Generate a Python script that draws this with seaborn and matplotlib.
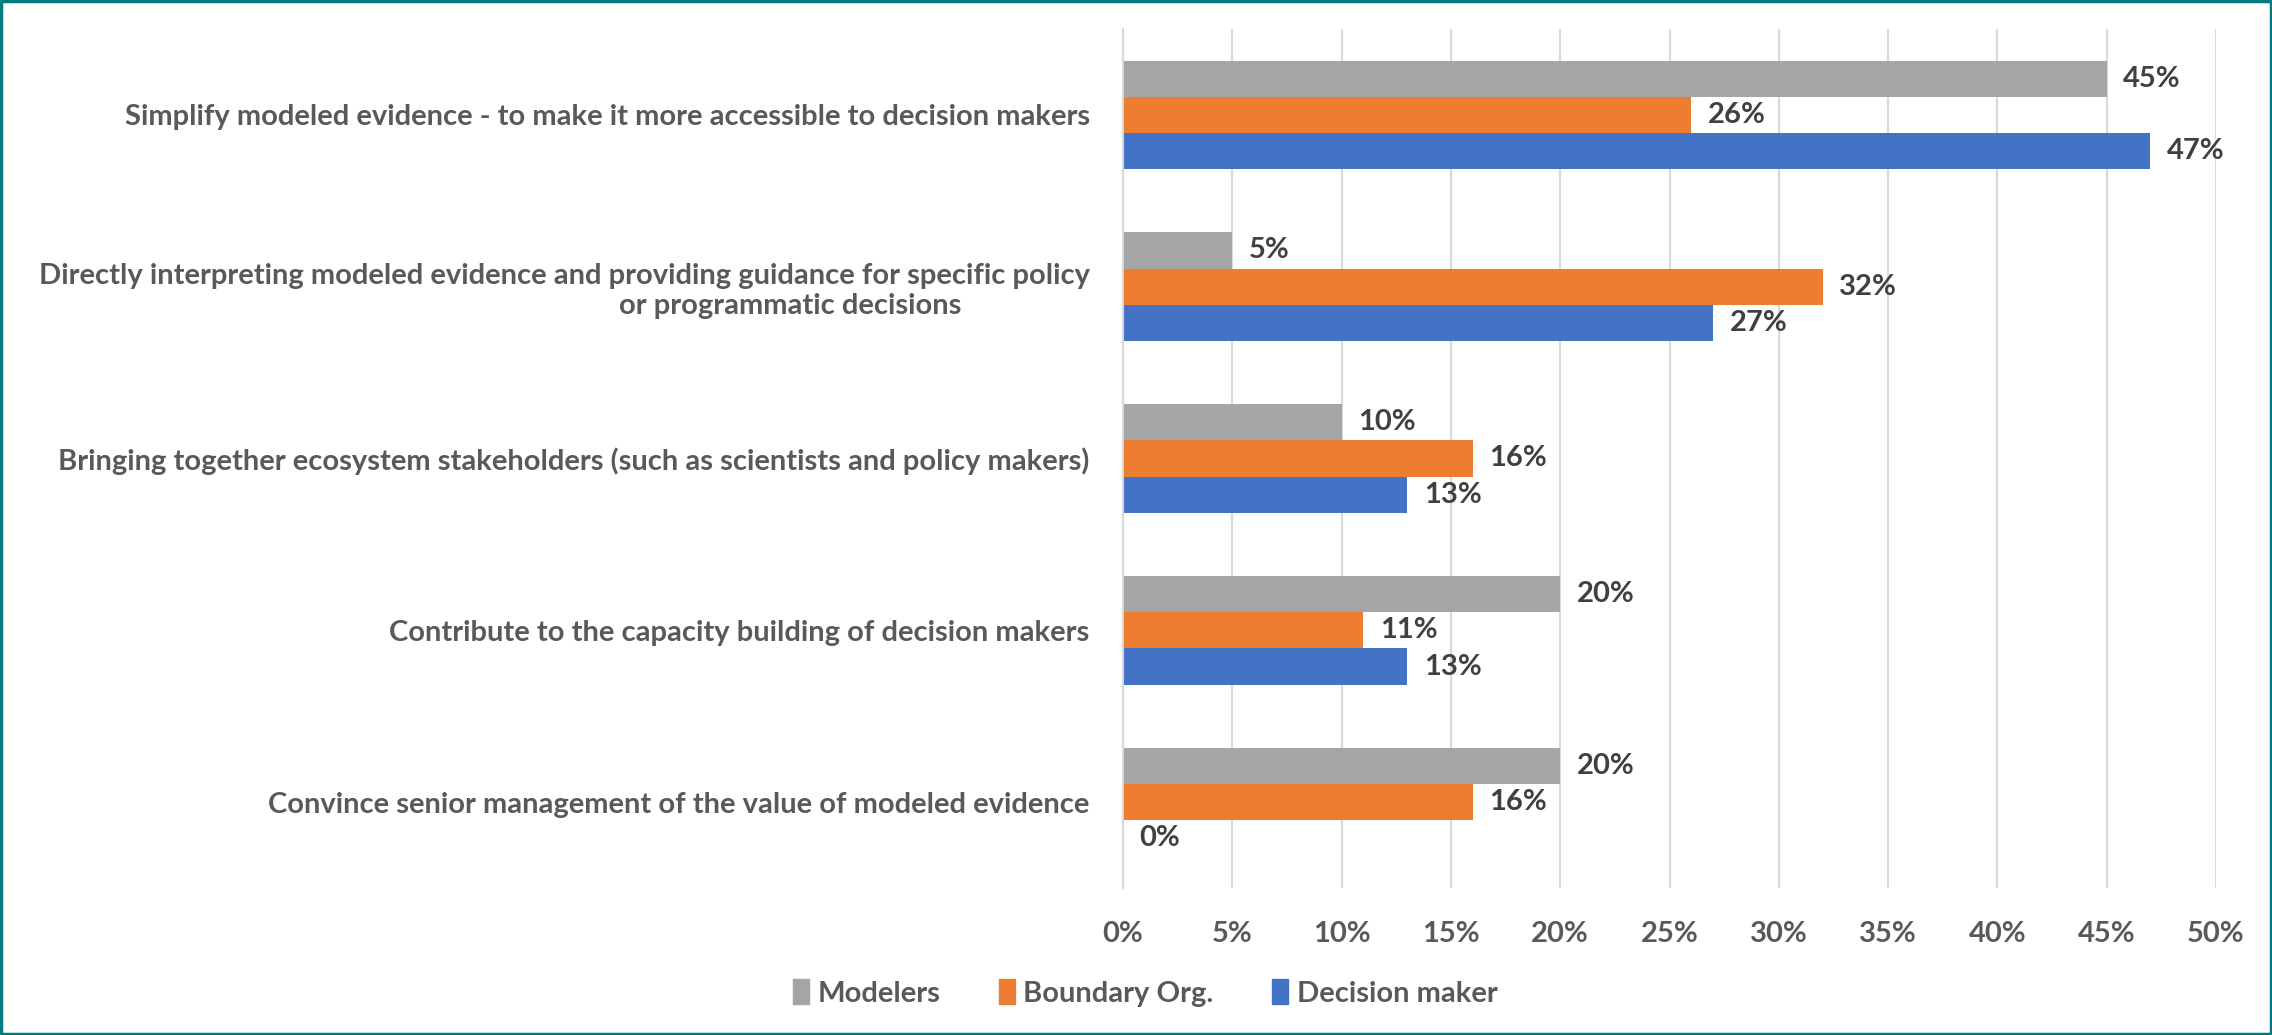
import matplotlib
matplotlib.use("Agg")
import matplotlib.pyplot as plt
import matplotlib.patches as mpatches
import seaborn as sns
import pandas as pd

categories = [
    "Simplify modeled evidence - to make it more accessible to decision makers",
    "Directly interpreting modeled evidence and providing guidance for specific policy\nor programmatic decisions",
    "Bringing together ecosystem stakeholders (such as scientists and policy makers)",
    "Contribute to the capacity building of decision makers",
    "Convince senior management of the value of modeled evidence",
]
series = ["Modelers", "Boundary Org.", "Decision maker"]
modelers = [45, 5, 10, 20, 20]
boundary_org = [26, 32, 16, 11, 16]
decision_maker = [47, 27, 13, 13, 0]
x_ticks = [0, 5, 10, 15, 20, 25, 30, 35, 40, 45, 50]
colors = ["#A5A5A5", "#ED7D31", "#4472C4"]

rows = []
for name, vals in zip(series, [modelers, boundary_org, decision_maker]):
    for c, v in zip(categories, vals):
        rows.append({"category": c, "series": name, "value": v})
df = pd.DataFrame(rows)

sns.set_theme(style="white")
plt.rcParams["font.family"] = ["Lato", "DejaVu Sans"]
plt.rcParams["font.weight"] = "bold"

FS = 21

fig = plt.figure(figsize=(22.72, 10.35), dpi=100)
ax = fig.add_axes([1123 / 2272, 1 - 888 / 1035, (2216 - 1123) / 2272, (888 - 29) / 1035])

sns.barplot(data=df, y="category", x="value", hue="series", order=categories,
            hue_order=series, palette=colors, orient="h", width=0.633,
            saturation=1, linewidth=0, ax=ax, legend=False)

ax.set_xlim(0, 50)
ax.set_ylim(4.5, -0.5)
ax.set_xticks(x_ticks)
ax.set_xticklabels([f"{t}%" for t in x_ticks], fontsize=FS, color="#595959", fontweight="bold")
ax.grid(axis="x", color="#D9D9D9", linewidth=1.5)
ax.set_axisbelow(True)
for s in ["top", "right", "bottom"]:
    ax.spines[s].set_visible(False)
ax.spines["left"].set_color("#D9D9D9")
ax.spines["left"].set_linewidth(1.5)
ax.tick_params(axis="both", length=0)
ax.tick_params(axis="x", pad=24)
ax.tick_params(axis="y", pad=24)
ax.set_xlabel("")
ax.set_ylabel("")

ylabels = []
for c in categories:
    if "\n" in c:
        a, b = c.split("\n")
        c = a + "\n" + b + " " * 18
    ylabels.append(c)
ax.set_yticks(range(len(categories)))
ax.set_yticklabels(ylabels, fontsize=FS, color="#595959", fontweight="bold")
for t in ax.get_yticklabels():
    t.set_multialignment("right")

for cont in ax.containers:
    ax.bar_label(cont, labels=[f"{v:.0f}%" for v in cont.datavalues], padding=12,
                 fontsize=FS, color="#404040", fontweight="bold")

handles = [mpatches.Patch(color=c, label=s) for c, s in zip(colors, series)]
fig.legend(handles=handles, loc="center", bbox_to_anchor=(0.504, 1 - 993 / 1035),
           ncol=3, frameon=False, fontsize=FS, handlelength=0.55, handleheight=0.9,
           handletextpad=0.3, columnspacing=2.0, labelcolor="#595959")

fig.patches.append(mpatches.Rectangle((0.0005, 0.001), 0.999, 0.998, transform=fig.transFigure,
                                      fill=False, edgecolor="#007A80", linewidth=2.5))

fig.savefig("out.png", dpi=100)
